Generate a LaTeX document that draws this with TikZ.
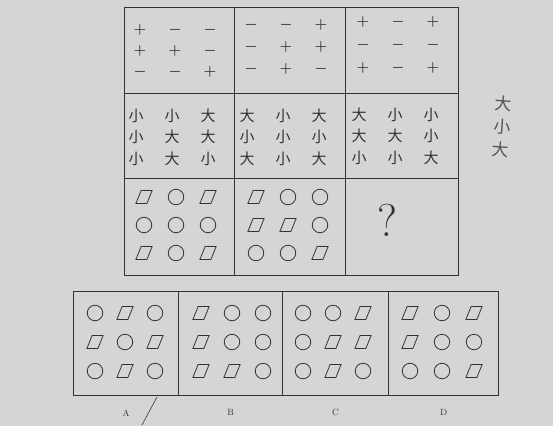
\documentclass[tikz,border=0pt]{standalone}
\usepackage{fontspec}
\newfontfamily\cjk{Noto Sans CJK SC}
\usetikzlibrary{positioning,calc}
\definecolor{paper}{RGB}{213,213,211}
\definecolor{ink}{RGB}{50,50,50}
\definecolor{pencil}{RGB}{85,85,85}
\tikzset{
  cell/.style={draw=ink, line width=1.1pt, inner sep=0pt, anchor=north west},
  sign/.style={text=ink, font=\boldmath\fontsize{15}{15}\selectfont},
  glyph/.style={text=ink, font=\cjk\fontsize{15}{15}\selectfont},
  circ/.style={draw=ink, thick, circle, minimum size=15.5pt, inner sep=0pt},
  para/.style={draw=ink, thick, rectangle, minimum width=11pt, minimum height=13pt,
    inner sep=0pt, xslant=0.4},
  letter/.style={text=ink, font=\small},
}
% 3x3 block of texts / shapes round a centre
\newcommand{\textgrid}[6]{%
  \foreach \t [count=\k from 0] in {#6} {
    \pgfmathtruncatemacro\r{div(\k,3)}
    \pgfmathtruncatemacro\c{mod(\k,3)}
    \node[#1] (#2-\k) at ($(#3)+({(\c-1)*#4},{(\r-1)*#5})$) {\t};
  }}
\newcommand{\shapegrid}[5]{%
  \foreach \t [count=\k from 0] in {#5} {
    \pgfmathtruncatemacro\r{div(\k,3)}
    \pgfmathtruncatemacro\c{mod(\k,3)}
    \node[\t] (#1-\k) at ($(#2)+({(\c-1)*#3},{(\r-1)*#4})$) {};
  }}

\begin{document}
\begin{tikzpicture}[x=1pt, y=-1pt]
  \fill[paper] (0,0) rectangle (553,426);
  \useasboundingbox (0,0) rectangle (553,426);

  % question grid
  \node[cell, minimum width=110pt, minimum height=86pt] (s1) at (124,7) {};
  \node[cell, minimum width=111pt, minimum height=86pt] (s2) at (234,7) {};
  \node[cell, minimum width=113pt, minimum height=86pt] (s3) at (345,7) {};
  \node[cell, minimum width=110pt, minimum height=85pt] (w1) at (124,93) {};
  \node[cell, minimum width=111pt, minimum height=85pt] (w2) at (234,93) {};
  \node[cell, minimum width=113pt, minimum height=85pt] (w3) at (345,93) {};
  \node[cell, minimum width=110pt, minimum height=97pt] (f1) at (124,178) {};
  \node[cell, minimum width=111pt, minimum height=97pt] (f2) at (234,178) {};
  \node[cell, minimum width=113pt, minimum height=97pt] (f3) at (345,178) {};

  \textgrid{sign}{s1}{175,51}{35}{21}{$+$,$-$,$-$,$+$,$+$,$-$,$-$,$-$,$+$}
  \textgrid{sign}{s2}{286,47}{35}{22}{$-$,$-$,$+$,$-$,$+$,$+$,$-$,$+$,$-$}
  \textgrid{sign}{s3}{398,45}{35}{23}{$+$,$-$,$+$,$-$,$-$,$-$,$+$,$-$,$+$}

  \textgrid{glyph}{w1}{172,137}{36}{21.5}{小,小,大,小,大,大,小,大,小}
  \textgrid{glyph}{w2}{283,137}{36}{21.5}{大,小,大,小,小,小,大,小,大}
  \textgrid{glyph}{w3}{395,136}{36}{21.5}{大,小,小,大,大,小,小,小,大}

  \shapegrid{f1}{176,225}{32}{28}{para,circ,para,circ,circ,circ,para,circ,para}
  \shapegrid{f2}{288,225}{32}{28}{para,circ,circ,para,para,circ,circ,circ,para}
  \node[text=ink, font=\fontsize{46}{46}\selectfont] (ask) at (387,220) {?};

  % answer options
  \node[cell, minimum width=105pt, minimum height=104pt] (optA) at (73,291) {};
  \node[cell, minimum width=104pt, minimum height=104pt] (optB) at (178,291) {};
  \node[cell, minimum width=106pt, minimum height=104pt] (optC) at (282,291) {};
  \node[cell, minimum width=110pt, minimum height=104pt] (optD) at (388,291) {};

  \shapegrid{optA}{125,342}{30}{29}{circ,para,circ,para,circ,para,circ,para,circ}
  \shapegrid{optB}{232,342}{31}{29}{para,circ,circ,para,circ,circ,para,para,circ}
  \shapegrid{optC}{333,342}{30}{29}{circ,circ,para,circ,para,para,circ,para,circ}
  \shapegrid{optD}{442,342}{32}{29}{para,circ,para,para,circ,circ,circ,circ,para}

  \node[letter, below=10pt of optA] (labA) {A};
  \node[letter, below=10pt of optB] (labB) {B};
  \node[letter, below=10pt of optC] (labC) {C};
  \node[letter, below=10pt of optD] (labD) {D};

  % pencil marks
  \node[text=pencil, font=\cjk\fontsize{17}{23}\selectfont, align=center, rotate=-4]
    (note) at (502,127) {大\\小\\大};
  \coordinate (pen1) at (142,425);
  \coordinate (pen2) at (157,397);
  \draw[pencil, thick] (pen1) -- (pen2);
\end{tikzpicture}
\end{document}
